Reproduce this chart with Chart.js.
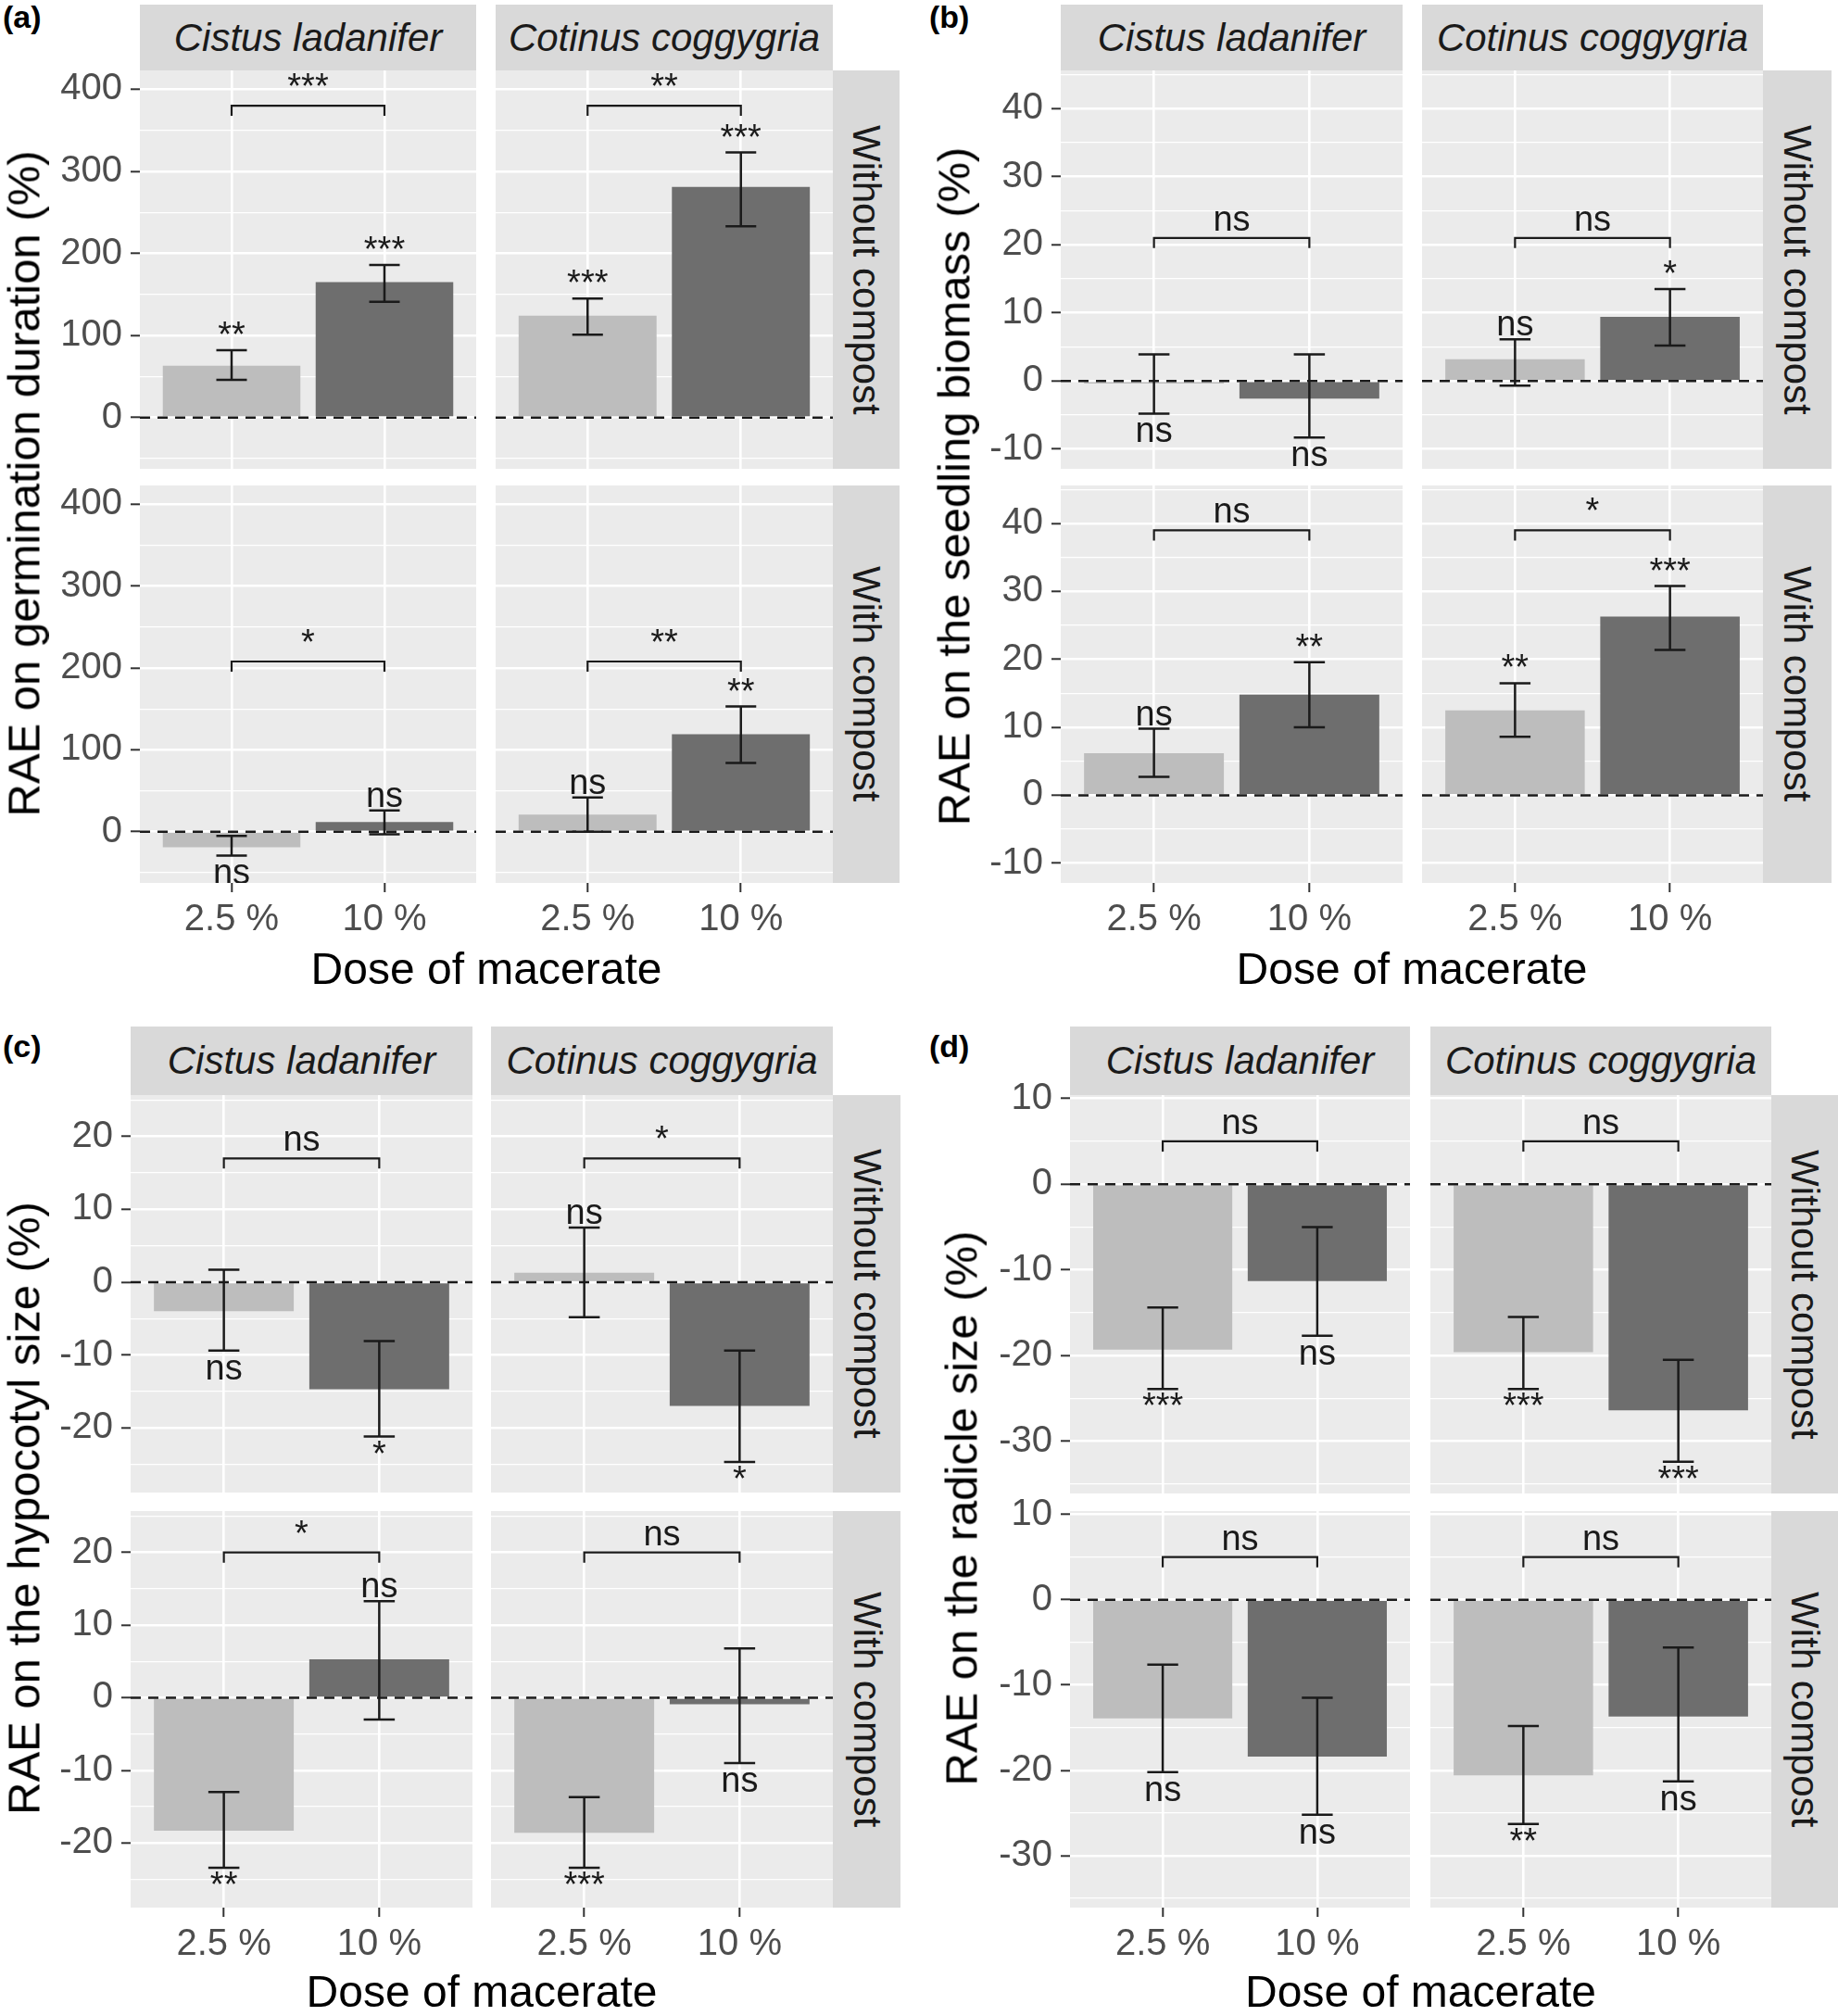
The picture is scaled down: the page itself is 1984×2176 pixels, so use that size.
<!DOCTYPE html>
<html>
<head>
<meta charset="utf-8">
<script src="https://cdn.jsdelivr.net/npm/chart.js@4.4.1/dist/chart.umd.min.js"></script>
<style>
  html, body { margin: 0; padding: 0; background: #fff; }
  #fig { position: relative; width: 1984px; height: 2176px; overflow: hidden; font-family: 'Liberation Sans', Arial, sans-serif; }
  #fig canvas { position: absolute; }
  .txt { position: absolute; white-space: nowrap; }
  .tag { font-weight: bold; font-size: 34px; line-height: 34px; color: #000; }
  .strip { position: absolute; background: #d9d9d9; display: flex; align-items: center; justify-content: center; font-size: 42px; color: #1a1a1a; }
  .strip.col { font-style: italic; }
  .strip.row span { writing-mode: vertical-rl; }
  .xtitle { font-size: 48px; line-height: 48px; color: #000; transform: translateX(-50%); }
  .ytitle { font-size: 49px; line-height: 49px; color: #000; transform: translate(-50%, -50%) rotate(-90deg); }
</style>
</head>
<body>
<div id="fig"></div>
<script>
// categories
const doses = ['2.5 %', '10 %'];
const species = ['Cistus ladanifer', 'Cotinus coggygria'];
const compost = ['Without compost', 'With compost'];
// every list below is ordered: without compost (Cistus, Cotinus), with compost (Cistus, Cotinus)

// (a) RAE on germination duration
const germMean = [[63, 165], [124, 281], [-19, 12], [21, 119]];
const germLow  = [[46, 141], [101, 233], [-29, -3], [0, 84]];
const germHigh = [[82, 186], [145, 323], [-5, 26], [42, 153]];
const germSig  = [['**', '***'], ['***', '***'], ['ns', 'ns'], ['ns', '**']];
const germPair = ['***', '**', '*', '**'];
const germPairAt = [380, 380, 208, 208];
const germTicks = [0, 100, 200, 300, 400];

// (b) RAE on the seedling biomass
const bioMean = [[-0.4, -2.6], [3.2, 9.4], [6.2, 14.8], [12.5, 26.3]];
const bioLow  = [[-4.8, -8.3], [-0.7, 5.2], [2.7, 10], [8.6, 21.4]];
const bioHigh = [[3.9, 3.9], [6.1, 13.5], [9.8, 19.6], [16.5, 30.8]];
const bioSig  = [['ns', 'ns'], ['ns', '*'], ['ns', '**'], ['**', '***']];
const bioPair = ['ns', 'ns', 'ns', '*'];
const bioPairAt = [21, 21, 39, 39];
const bioTicks = [-10, 0, 10, 20, 30, 40];

// (c) RAE on the hypocotyl size
const hypMean = [[-4, -14.7], [1.3, -17], [-18.3, 5.3], [-18.6, -0.9]];
const hypLow  = [[-9.4, -21.2], [-4.8, -24.7], [-23.4, -3], [-23.4, -9]];
const hypHigh = [[1.7, -8.1], [7.5, -9.4], [-13, 13.3], [-13.7, 6.8]];
const hypSig  = [['ns', '*'], ['ns', '*'], ['**', 'ns'], ['***', 'ns']];
const hypPair = ['ns', '*', '*', 'ns'];
const hypPairAt = [17, 17, 20, 20];
const hypTicks = [-20, -10, 0, 10, 20];

// (d) RAE on the radicle size
const radMean = [[-19.3, -11.3], [-19.6, -26.4], [-13.9, -18.4], [-20.6, -13.7]];
const radLow  = [[-23.9, -17.7], [-23.9, -32.4], [-20.2, -25.2], [-26.3, -21.3]];
const radHigh = [[-14.4, -5], [-15.5, -20.5], [-7.6, -11.5], [-14.8, -5.6]];
const radSig  = [['***', 'ns'], ['***', '***'], ['ns', 'ns'], ['**', 'ns']];
const radPair = ['ns', 'ns', 'ns', 'ns'];
const radPairAt = [5, 5, 5, 5];
const radTicks = [-30, -20, -10, 0, 10];

const barColors = ['#bdbdbd', '#6e6e6e'];

// layout of the four ggplot-like panels (pixels)
const panels = [
  { tag: '(a)', title: 'RAE on germination duration (%)', mean: germMean, low: germLow, high: germHigh, sig: germSig, pair: germPair, pairAt: germPairAt, ticks: germTicks, yMin: -62.5, yMax: 423,
    cols: [[151, 514], [535, 899]], rstrip: [899, 971], stripTop: 5, rows: [[76, 506], [524, 953]], tagXY: [3, 1], yTitleX: 26, yTitleY: 522, xTitleY: 1022 },
  { tag: '(b)', title: 'RAE on the seedling biomass (%)', mean: bioMean, low: bioLow, high: bioHigh, sig: bioSig, pair: bioPair, pairAt: bioPairAt, ticks: bioTicks, yMin: -12.9, yMax: 45.6,
    cols: [[1145, 1514], [1535, 1903]], rstrip: [1903, 1977], stripTop: 5, rows: [[76, 506], [524, 953]], tagXY: [1003, 1], yTitleX: 1030, yTitleY: 525, xTitleY: 1022 },
  { tag: '(c)', title: 'RAE on the hypocotyl size (%)', mean: hypMean, low: hypLow, high: hypHigh, sig: hypSig, pair: hypPair, pairAt: hypPairAt, ticks: hypTicks, yMin: -28.9, yMax: 25.7,
    cols: [[141, 510], [530, 899]], rstrip: [899, 972], stripTop: 1108, rows: [[1182, 1611], [1631, 2059]], tagXY: [3, 1112], yTitleX: 26, yTitleY: 1628, xTitleY: 2126 },
  { tag: '(d)', title: 'RAE on the radicle size (%)', mean: radMean, low: radLow, high: radHigh, sig: radSig, pair: radPair, pairAt: radPairAt, ticks: radTicks, yMin: -36.1, yMax: 10.4,
    cols: [[1155, 1522], [1544, 1912]], rstrip: [1912, 1984], stripTop: 1108, rows: [[1182, 1612], [1631, 2059]], tagXY: [1003, 1112], yTitleX: 1038, yTitleY: 1628, xTitleY: 2126 }
];

Chart.defaults.font.family = "'Liberation Sans', Arial, sans-serif";
const fig = document.getElementById('fig');
const M = 30, Y_AXIS = 150, X_AXIS = 70;

function addText(cls, text, left, top, extra) {
  const d = document.createElement('div');
  d.className = cls;
  d.textContent = text;
  d.style.left = left + 'px';
  d.style.top = top + 'px';
  if (extra) Object.assign(d.style, extra);
  fig.appendChild(d);
  return d;
}

// background, dashed zero line, error bars, stars and the pair bracket
function marks(f) {
  return {
    id: 'marks',
    beforeDraw(chart) {
      const { ctx, chartArea: a } = chart;
      ctx.save();
      ctx.fillStyle = '#ebebeb';
      ctx.fillRect(a.left, a.top, a.width, a.height);
      ctx.restore();
    },
    afterDatasetsDraw(chart) {
      const { ctx, chartArea: a, scales: { x, y } } = chart;
      ctx.save();
      ctx.beginPath();
      ctx.rect(a.left, a.top, a.width, a.height);
      ctx.clip();
      ctx.strokeStyle = '#1a1a1a';
      ctx.fillStyle = '#1a1a1a';
      ctx.lineWidth = 2.5;
      const zero = y.getPixelForValue(0);
      ctx.setLineDash([11, 8]);
      ctx.beginPath(); ctx.moveTo(a.left, zero); ctx.lineTo(a.right, zero); ctx.stroke();
      ctx.setLineDash([]);
      const half = x.getPixelForValue(1.1) - x.getPixelForValue(1);
      ctx.font = "38px 'Liberation Sans', Arial, sans-serif";
      ctx.textAlign = 'center';
      ctx.textBaseline = 'alphabetic';
      f.low.forEach((lo, i) => {
        const px = x.getPixelForValue(i + 1);
        const pl = y.getPixelForValue(lo), ph = y.getPixelForValue(f.high[i]);
        ctx.beginPath();
        ctx.moveTo(px, pl); ctx.lineTo(px, ph);
        ctx.moveTo(px - half, pl); ctx.lineTo(px + half, pl);
        ctx.moveTo(px - half, ph); ctx.lineTo(px + half, ph);
        ctx.stroke();
        if (f.mean[i] >= 0) ctx.fillText(f.sig[i], px, ph - 4);
        else ctx.fillText(f.sig[i], px, pl + 31);
      });
      const b1 = x.getPixelForValue(1), b2 = x.getPixelForValue(2), by = y.getPixelForValue(f.pairAt);
      ctx.lineWidth = 2.2;
      ctx.beginPath();
      ctx.moveTo(b1, by + 11); ctx.lineTo(b1, by); ctx.lineTo(b2, by); ctx.lineTo(b2, by + 11);
      ctx.stroke();
      ctx.fillText(f.pair, (b1 + b2) / 2, by - 8);
      ctx.restore();
    }
  };
}

function facet(p, r, c) {
  const k = r * 2 + c;
  const isLeft = c === 0, isBottom = r === 1;
  const [x0, x1] = p.cols[c], [y0, y1] = p.rows[r];
  const yw = isLeft ? Y_AXIS : 0, xh = isBottom ? X_AXIS : 0;
  const w = M + yw + (x1 - x0) + M, h = M + (y1 - y0) + xh + M;
  const cv = document.createElement('canvas');
  cv.width = w; cv.height = h;
  cv.style.left = (x0 - yw - M) + 'px';
  cv.style.top = (y0 - M) + 'px';
  cv.style.width = w + 'px'; cv.style.height = h + 'px';
  fig.appendChild(cv);

  // major ticks plus minor grid lines halfway between them
  const step = p.ticks[1] - p.ticks[0];
  const gridVals = [];
  for (let v = p.ticks[0] - step / 2; v <= p.ticks[p.ticks.length - 1] + step / 2 + 1e-9; v += step / 2) {
    if (v >= p.yMin && v <= p.yMax) gridVals.push(v);
  }
  const isMajor = v => p.ticks.includes(v);

  new Chart(cv, {
    type: 'bar',
    data: {
      datasets: [{
        data: p.mean[k].map((v, i) => ({ x: i + 1, y: v })),
        backgroundColor: barColors,
        barPercentage: 0.9,
        categoryPercentage: 1
      }]
    },
    options: {
      responsive: false, animation: false, devicePixelRatio: 1, events: [],
      layout: { padding: M },
      plugins: { legend: { display: false }, tooltip: { enabled: false } },
      scales: {
        x: {
          type: 'linear', min: 0.4, max: 2.6, offset: false,
          afterBuildTicks: s => { s.ticks = doses.map((d, i) => ({ value: i + 1 })); },
          ticks: { display: isBottom, autoSkip: false, maxRotation: 0, color: '#4d4d4d', font: { size: 40 }, padding: 6,
                   callback: v => doses[v - 1] },
          grid: { color: '#ffffff', lineWidth: 2.6, offset: false, drawTicks: isBottom, tickLength: 10, tickWidth: 2, tickColor: '#333333' },
          border: { display: false },
          afterFit: s => { s.height = xh; s.paddingLeft = 0; s.paddingRight = 0; }
        },
        y: {
          min: p.yMin, max: p.yMax,
          afterBuildTicks: s => { s.ticks = gridVals.map(v => ({ value: v })); },
          ticks: { display: isLeft, autoSkip: false, color: '#4d4d4d', font: { size: 40 }, padding: 9,
                   callback: v => isMajor(v) ? String(v) : '' },
          grid: {
            color: '#ffffff',
            lineWidth: ctx => (ctx.tick && isMajor(ctx.tick.value)) ? 2.6 : 1.3,
            drawTicks: isLeft, tickLength: 10, tickWidth: 2,
            tickColor: ctx => (ctx.tick && isMajor(ctx.tick.value)) ? '#333333' : 'rgba(0,0,0,0)'
          },
          border: { display: false },
          afterFit: s => { s.width = yw; s.paddingTop = 0; s.paddingBottom = 0; }
        }
      }
    },
    plugins: [marks({ mean: p.mean[k], low: p.low[k], high: p.high[k], sig: p.sig[k], pair: p.pair[k], pairAt: p.pairAt[k] })]
  });
}

panels.forEach(p => {
  for (let r = 0; r < 2; r++) for (let c = 0; c < 2; c++) facet(p, r, c);

  // facet strips
  p.cols.forEach(([a, b], c) => {
    addText('strip col', species[c], a, p.stripTop, { width: (b - a) + 'px', height: (p.rows[0][0] - p.stripTop) + 'px' });
  });
  p.rows.forEach(([a, b], r) => {
    const s = addText('strip row', '', p.rstrip[0], a, { width: (p.rstrip[1] - p.rstrip[0]) + 'px', height: (b - a) + 'px' });
    const sp = document.createElement('span');
    sp.textContent = compost[r];
    s.appendChild(sp);
  });

  addText('txt tag', p.tag, p.tagXY[0], p.tagXY[1]);
  addText('txt ytitle', p.title, p.yTitleX, p.yTitleY);
  addText('txt xtitle', 'Dose of macerate', (p.cols[0][0] + p.cols[1][1]) / 2, p.xTitleY);
});
</script>
</body>
</html>
